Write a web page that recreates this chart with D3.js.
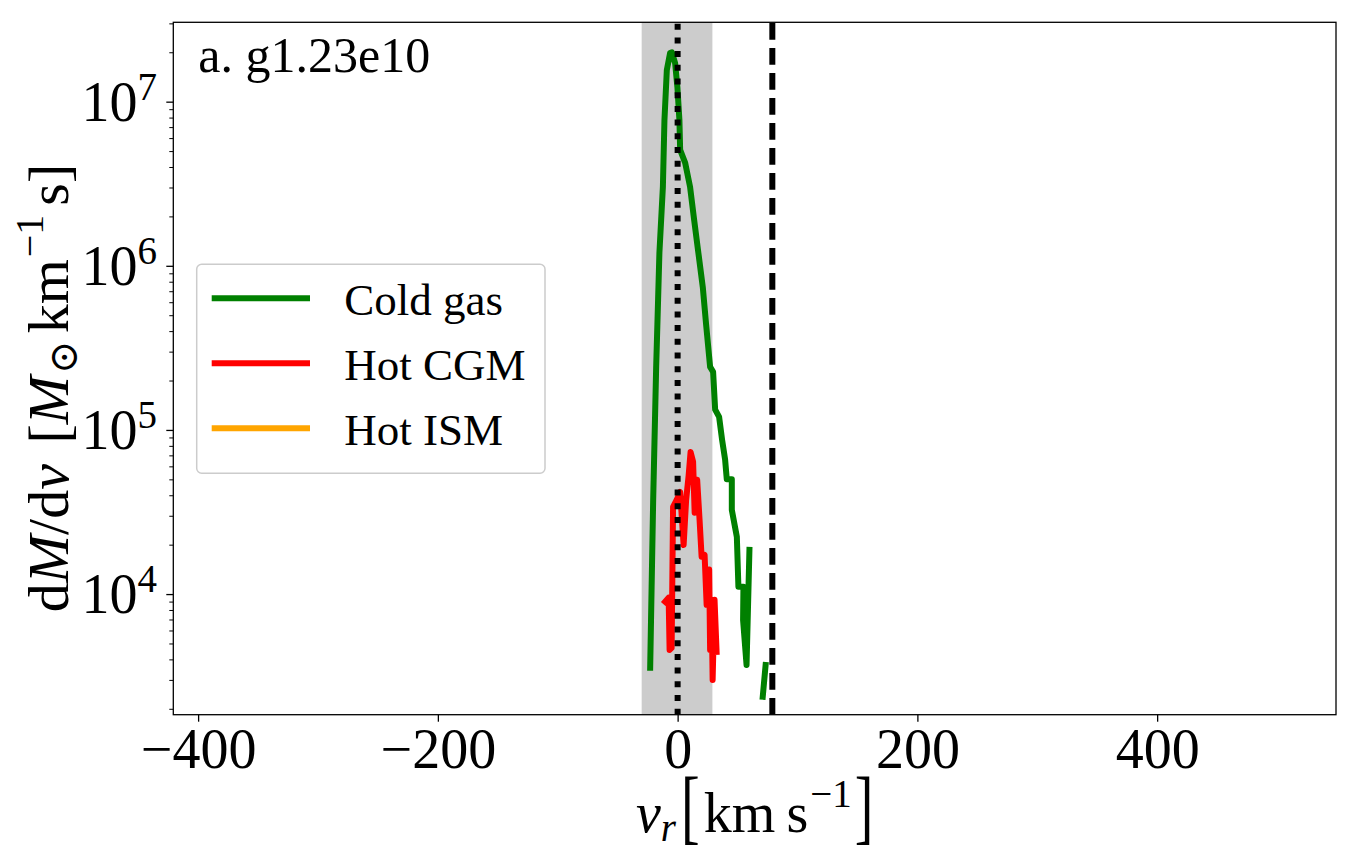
<!DOCTYPE html>
<html><head><meta charset="utf-8">
<script src="https://cdn.jsdelivr.net/npm/d3@7"></script>
<style>body{margin:0;background:#fff}svg{display:block}text{font-family:"Liberation Serif","Times New Roman",serif;fill:#000}</style>
</head><body><svg id="c" width="1359" height="862"></svg>
<script>
// ---- data ----
const coldV = [-22.9,-20.4,-17.9,-16.3,-15.2,-12.3,-11.0,-9.0,-6.3,-4.8,-2.1,-0.2,1.5,2.1,6.3,10.4,13.8,17.3,21.0,23.8,27.1,29.6,31.3,34.6,37.1,39.6,41.0,45.2,45.2,49.4,50.7,54.9,54.6,57.5,59.9,65.0,71.0,73.4];
const coldM = [3560,37500,2.42e5,6.2e5,1.2e6,3.02e6,7.7e6,1.56e7,1.98e7,2.0e7,1.72e7,1.23e7,7.7e6,5.08e6,4.24e6,3.02e6,1.9e6,1.2e6,7.4e5,4.36e5,2.42e5,2.26e5,1.33e5,1.2e5,8.7e4,6.6e4,5.0e4,5.0e4,3.26e4,2.23e4,1.11e4,1.11e4,6950,3700,1.86e4,null,2370,3700];
const cgmV = [-10.4,-7.5,-6.7,-5.0,-3.8,-0.8,2.1,5.0,7.1,9.2,10.8,12.9,14.2,16.3,18.3,20.0,22.5,24.2,26.3,27.1,28.3,29.2,30.8,32.5];
const cgmM = [8970,9490,4570,4700,3.4e4,3.75e4,4.19e4,1.99e4,3.75e4,5.3e4,7.35e4,6.4e4,3.13e4,4.97e4,2.83e4,1.69e4,1.73e4,8600,1.41e4,4570,9230,3000,9230,4450];
const ismV = [];
const ismM = [];
const seriesNames = ["Cold gas","Hot CGM","Hot ISM"];
const seriesColors = ["green","red","orange"];
const xTicks = [-400,-200,0,200,400];
const yDecades = [4,5,6,7];
const bandRange = [-30,29];
const zeroLine = 0;
const dashLine = 79;
const panelLabel = "a. g1.23e10";

// ---- layout ----
const svg = d3.select("#c");
const L=173.3, R=1336, T=22.3, B=714.7;
const x = d3.scaleLinear().domain([-420.7,549.2]).range([L,R]);
const y = d3.scaleLog().domain([1841,3.045e7]).range([B,T]);

svg.append("defs").append("clipPath").attr("id","clip").append("rect")
  .attr("x",L).attr("y",T).attr("width",R-L).attr("height",B-T);
const plot = svg.append("g").attr("clip-path","url(#clip)");

plot.append("rect").attr("x",x(bandRange[0])).attr("width",x(bandRange[1])-x(bandRange[0]))
  .attr("y",T).attr("height",B-T).attr("fill","#cccccc");

const line = d3.line().defined(d=>d[1]!=null).x(d=>x(d[0])).y(d=>y(d[1]));
const series = [[coldV,coldM],[cgmV,cgmM],[ismV,ismM]];
series.forEach((s,i)=>{
  const pts = s[0].map((v,j)=>[v,s[1][j]]);
  plot.append("path").datum(pts).attr("d",line).attr("fill","none")
    .attr("stroke",seriesColors[i]).attr("stroke-width",6)
    .attr("stroke-linejoin","round").attr("stroke-linecap","square");
});

plot.append("line").attr("x1",x(zeroLine)).attr("x2",x(zeroLine)).attr("y1",B).attr("y2",T)
  .attr("stroke","#000").attr("stroke-width",6).attr("stroke-dasharray","6 7.7");
plot.append("line").attr("x1",x(dashLine)).attr("x2",x(dashLine)).attr("y1",B).attr("y2",T)
  .attr("stroke","#000").attr("stroke-width",6).attr("stroke-dasharray","16.7 8.3");

// axes
const xa = svg.append("g").attr("transform",`translate(0,${B})`)
  .call(d3.axisBottom(x).tickValues(xTicks).tickSize(7).tickPadding(10)
    .tickFormat(d=>d<0?"\u2212"+Math.abs(d):String(d)));
xa.select(".domain").remove();
xa.selectAll("line").attr("stroke-width",1.3);
xa.selectAll("text").attr("font-size",56).attr("dy",null).attr("y",null)
  .attr("transform","translate(0,53)")
  .style("font-family","Liberation Serif");

const majors = yDecades.map(k=>Math.pow(10,k));
const minors = [];
for (let k=3;k<=7;k++) for (let m=2;m<=9;m++){const v=m*Math.pow(10,k); if(v>=1841&&v<=3.045e7) minors.push(v);}
const ya = svg.append("g").attr("transform",`translate(${L},0)`)
  .call(d3.axisLeft(y).tickValues(majors).tickSize(7).tickFormat(""));
ya.select(".domain").remove();
ya.selectAll("line").attr("stroke-width",1.3);
const yam = svg.append("g").attr("transform",`translate(${L},0)`)
  .call(d3.axisLeft(y).tickValues(minors).tickSize(4).tickFormat(""));
yam.select(".domain").remove();
yam.selectAll("line").attr("stroke-width",1);

yDecades.forEach(k=>{
  const t = svg.append("text").attr("x",157).attr("y",y(Math.pow(10,k))+19)
    .attr("text-anchor","end").attr("font-size",56);
  t.append("tspan").text("10");
  t.append("tspan").attr("font-size",39).attr("dy",-21).text(String(k));
});

svg.append("rect").attr("x",L).attr("y",T).attr("width",R-L).attr("height",B-T)
  .attr("fill","none").attr("stroke","#000").attr("stroke-width",1.3);

svg.append("text").attr("x",198.3).attr("y",71.7).attr("font-size",50).text(panelLabel);

// legend
const lg = svg.append("g");
lg.append("rect").attr("x",196.7).attr("y",264.3).attr("width",348.3).attr("height",209)
  .attr("rx",5).attr("fill","#fff").attr("fill-opacity",0.8).attr("stroke","#cccccc").attr("stroke-width",1.5);
seriesNames.forEach((n,i)=>{
  const yy = 298.3+65*i;
  lg.append("line").attr("x1",211.7).attr("x2",310).attr("y1",yy).attr("y2",yy)
    .attr("stroke",seriesColors[i]).attr("stroke-width",6);
  lg.append("text").attr("x",344.3).attr("y",yy+16.7).attr("font-size",45).text(n);
});

// x label, composed piece by piece
const xlg = svg.append("g");
const base = 832;
const pieces = [
  {t:"v",fs:56,it:true,dy:0,gap:0},
  {t:"r",fs:39,it:true,dy:9,gap:0},
  {t:"[",fs:56,br:true,gap:5},
  {t:"km\u2009s",fs:56,dy:0,gap:4},
  {t:"\u22121",fs:39,dy:-25,gap:2},
  {t:"]",fs:56,br:true,gap:3}
];
let cx = 0;
const made = [];
pieces.forEach(p=>{
  cx += p.gap;
  const el = xlg.append("text").attr("font-size",p.fs).text(p.t);
  if (p.it) el.attr("font-style","italic");
  const w = el.node().getComputedTextLength();
  made.push({el,p,x:cx});
  cx += w;
});
const x0 = (L+R)/2 - cx/2;
made.forEach(m=>{
  if (m.p.br) m.el.attr("transform",`translate(${x0+m.x},834) scale(1,1.48)`);
  else m.el.attr("x",x0+m.x).attr("y",base+m.p.dy);
});

// y label
const yl = svg.append("text").attr("transform","translate(68,388) rotate(-90)")
  .attr("text-anchor","middle").attr("font-size",58);
yl.append("tspan").text("d");
yl.append("tspan").attr("font-style","italic").text("M");
yl.append("tspan").text("/d");
yl.append("tspan").attr("font-style","italic").text("v");
yl.append("tspan").attr("dx",6).text(" [");
yl.append("tspan").attr("font-style","italic").text("M");
yl.append("tspan").attr("font-size",40).attr("dy",9).attr("dx",2).style("font-family","DejaVu Serif").text("\u2299");
yl.append("tspan").attr("dy",-9).attr("dx",7).text("km");
yl.append("tspan").attr("font-size",40).attr("dy",-25).attr("dx",2).text("\u22121");
yl.append("tspan").attr("dy",25).attr("dx",9).text("s]");
</script></body></html>
